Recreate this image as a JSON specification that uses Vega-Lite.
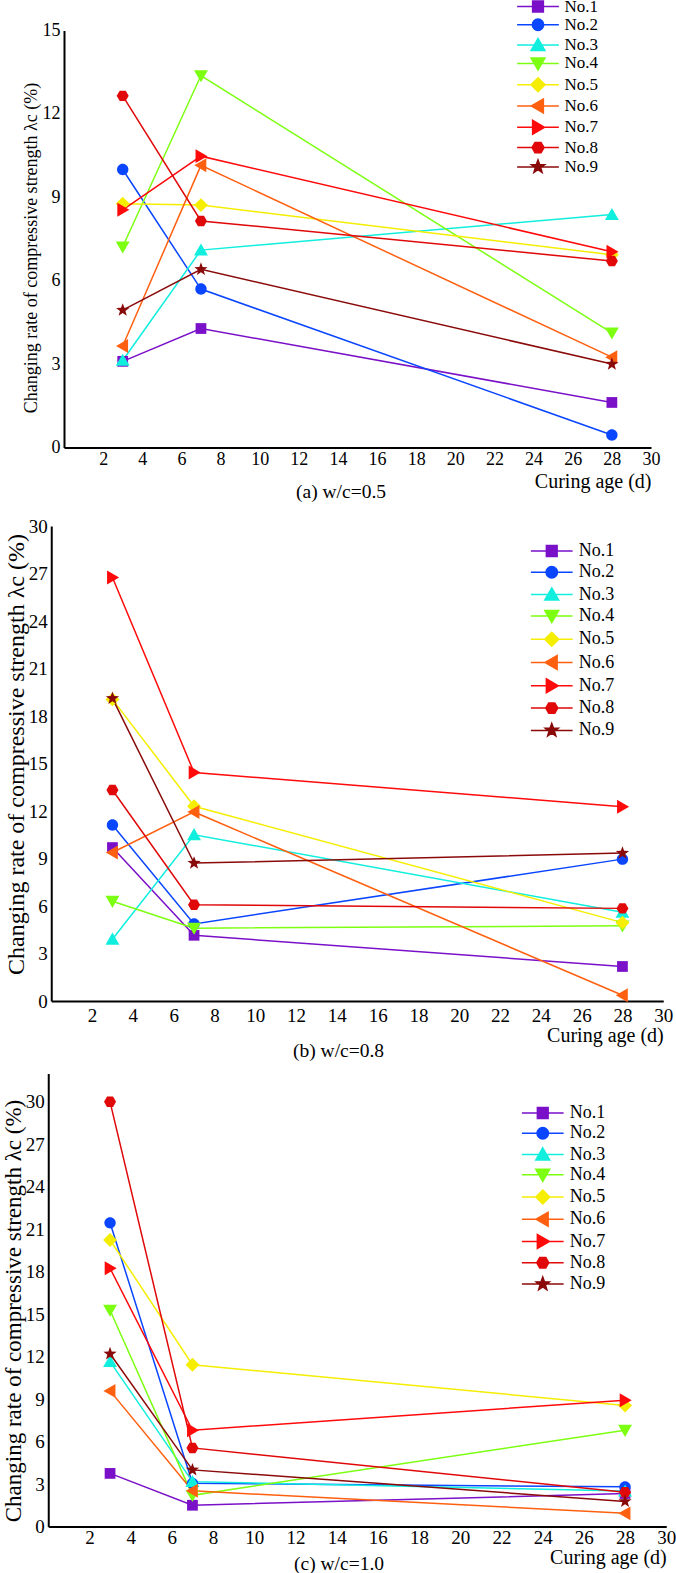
{
  "$schema": "https://vega.github.io/schema/vega-lite/v6.json",
  "padding": {"left": 2, "top": -2.5, "right": 0, "bottom": 0},
  "background": "white",
  "data": {"values": [
    {"p":"a","s":"No.1","t":3,"v":3.1},{"p":"a","s":"No.1","t":7,"v":4.28},{"p":"a","s":"No.1","t":28,"v":1.62},
    {"p":"a","s":"No.2","t":3,"v":10.0},{"p":"a","s":"No.2","t":7,"v":5.7},{"p":"a","s":"No.2","t":28,"v":0.45},
    {"p":"a","s":"No.3","t":3,"v":3.13},{"p":"a","s":"No.3","t":7,"v":7.1},{"p":"a","s":"No.3","t":28,"v":8.38},
    {"p":"a","s":"No.4","t":3,"v":7.22},{"p":"a","s":"No.4","t":7,"v":13.38},{"p":"a","s":"No.4","t":28,"v":4.12},
    {"p":"a","s":"No.5","t":3,"v":8.77},{"p":"a","s":"No.5","t":7,"v":8.72},{"p":"a","s":"No.5","t":28,"v":6.93},
    {"p":"a","s":"No.6","t":3,"v":3.65},{"p":"a","s":"No.6","t":7,"v":10.15},{"p":"a","s":"No.6","t":28,"v":3.25},
    {"p":"a","s":"No.7","t":3,"v":8.55},{"p":"a","s":"No.7","t":7,"v":10.48},{"p":"a","s":"No.7","t":28,"v":7.04},
    {"p":"a","s":"No.8","t":3,"v":12.65},{"p":"a","s":"No.8","t":7,"v":8.15},{"p":"a","s":"No.8","t":28,"v":6.71},
    {"p":"a","s":"No.9","t":3,"v":4.94},{"p":"a","s":"No.9","t":7,"v":6.41},{"p":"a","s":"No.9","t":28,"v":3.0},
    {"p":"b","s":"No.1","t":3,"v":9.69},{"p":"b","s":"No.1","t":7,"v":4.15},{"p":"b","s":"No.1","t":28,"v":2.18},
    {"p":"b","s":"No.2","t":3,"v":11.12},{"p":"b","s":"No.2","t":7,"v":4.87},{"p":"b","s":"No.2","t":28,"v":8.96},
    {"p":"b","s":"No.3","t":3,"v":3.9},{"p":"b","s":"No.3","t":7,"v":10.5},{"p":"b","s":"No.3","t":28,"v":5.6},
    {"p":"b","s":"No.4","t":3,"v":6.3},{"p":"b","s":"No.4","t":7,"v":4.6},{"p":"b","s":"No.4","t":28,"v":4.75},
    {"p":"b","s":"No.5","t":3,"v":19.05},{"p":"b","s":"No.5","t":7,"v":12.3},{"p":"b","s":"No.5","t":28,"v":4.95},
    {"p":"b","s":"No.6","t":3,"v":9.38},{"p":"b","s":"No.6","t":7,"v":11.94},{"p":"b","s":"No.6","t":28,"v":0.36},
    {"p":"b","s":"No.7","t":3,"v":26.75},{"p":"b","s":"No.7","t":7,"v":14.43},{"p":"b","s":"No.7","t":28,"v":12.27},
    {"p":"b","s":"No.8","t":3,"v":13.33},{"p":"b","s":"No.8","t":7,"v":6.08},{"p":"b","s":"No.8","t":28,"v":5.85},
    {"p":"b","s":"No.9","t":3,"v":19.11},{"p":"b","s":"No.9","t":7,"v":8.71},{"p":"b","s":"No.9","t":28,"v":9.34},
    {"p":"c","s":"No.1","t":3,"v":3.75},{"p":"c","s":"No.1","t":7,"v":1.5},{"p":"c","s":"No.1","t":28,"v":2.33},
    {"p":"c","s":"No.2","t":3,"v":21.45},{"p":"c","s":"No.2","t":7,"v":3.05},{"p":"c","s":"No.2","t":28,"v":2.8},
    {"p":"c","s":"No.3","t":3,"v":11.65},{"p":"c","s":"No.3","t":7,"v":3.17},{"p":"c","s":"No.3","t":28,"v":2.5},
    {"p":"c","s":"No.4","t":3,"v":15.28},{"p":"c","s":"No.4","t":7,"v":2.2},{"p":"c","s":"No.4","t":28,"v":6.8},
    {"p":"c","s":"No.5","t":3,"v":20.24},{"p":"c","s":"No.5","t":7,"v":11.43},{"p":"c","s":"No.5","t":28,"v":8.55},
    {"p":"c","s":"No.6","t":3,"v":9.58},{"p":"c","s":"No.6","t":7,"v":2.52},{"p":"c","s":"No.6","t":28,"v":0.93},
    {"p":"c","s":"No.7","t":3,"v":18.24},{"p":"c","s":"No.7","t":7,"v":6.8},{"p":"c","s":"No.7","t":28,"v":8.92},
    {"p":"c","s":"No.8","t":3,"v":30.0},{"p":"c","s":"No.8","t":7,"v":5.55},{"p":"c","s":"No.8","t":28,"v":2.42},
    {"p":"c","s":"No.9","t":3,"v":12.2},{"p":"c","s":"No.9","t":7,"v":4.0},{"p":"c","s":"No.9","t":28,"v":1.77}
  ]},
  "columns": 1,
  "align": {"row": "none", "column": "all"},
  "center": true,
  "spacing": 10.5,
  "resolve": {"legend": {"color": "independent"}},
  "concat": [
    {
      "width": 587, "height": 417,
      "title": {"text": "(a) w/c=0.5", "offset": -8, "subtitle": " ", "subtitleFontSize": 4, "subtitlePadding": -0.5},
      "transform": [{"filter": "datum.p == 'a'"}],
      "encoding": {
        "x": {"field": "t", "type": "quantitative", "scale": {"domain": [0, 30], "nice": false, "zero": false},
          "axis": {"title": "Curing age (d)", "titleFontSize": 20, "labelFontSize": 18, "labelPadding": 2.5, "titlePadding": 3,
            "values": [0,1,2,3,4,5,6,7,8,9,10,11,12,13,14,15,16,17,18,19,20,21,22,23,24,25,26,27,28,29,30],
            "labelExpr": "datum.value % 2 == 0 && datum.value > 0 ? datum.label : ''",
            "encode": {"ticks": {"update": {"y2": {"signal": "datum.value % 2 == 0 ? -6 : -3"}}}}}},
        "y": {"field": "v", "type": "quantitative", "scale": {"domain": [0, 15], "nice": false},
          "axis": {"title": "Changing rate of compressive strength λc (%)", "titleFontSize": 18, "labelFontSize": 18, "titlePadding": 2, "titleY": 217,
            "values": [0,1.5,3,4.5,6,7.5,9,10.5,12,13.5,15],
            "labelExpr": "datum.value % 3 == 0 ? datum.label : ''",
            "encode": {"ticks": {"update": {"x2": {"signal": "datum.value % 3 == 0 ? 6 : 3.5"}}}}}},
        "color": {"field": "s", "type": "nominal",
          "scale": {"domain": ["No.1","No.2","No.3","No.4","No.5","No.6","No.7","No.8","No.9"],
            "range": ["#7a10c8","#0a46ff","#10eede","#7cff10","#f5ee00","#ff6010","#ff0a0a","#e00808","#8a0a0a"]},
          "legend": {"title": null, "orient": "none", "legendX": 465.5, "legendY": -32.5, "rowPadding": 0.3, "labelFontSize": 17,
            "encode": {"symbols": {"update": {
              "shape": {"signal": "{'No.1':'M-3.3,0H3.3M-0.85,-0.85H0.85V0.85H-0.85Z','No.2':'M-3.3,0H3.3M0.9,0A0.9,0.9 0 1 1 -0.9,0A0.9,0.9 0 1 1 0.9,0Z','No.3':'M-3.3,0H3.3M0,-1.05L1.1,0.85L-1.1,0.85Z','No.4':'M-3.3,0H3.3M0,1.05L1.1,-0.85L-1.1,-0.85Z','No.5':'M-3.3,0H3.3M0,-1.1L1.1,0L0,1.1L-1.1,0Z','No.6':'M-3.3,0H3.3M-1.05,0L0.85,-1.1L0.85,1.1Z','No.7':'M-3.3,0H3.3M1.05,0L-0.85,-1.1L-0.85,1.1Z','No.8':'M-3.3,0H3.3M0.95,0L0.475,0.823L-0.475,0.823L-0.95,0L-0.475,-0.823L0.475,-0.823Z','No.9':'M-3.3,0H3.3M0,-1.1L0.265,-0.364L1.046,-0.34L0.428,0.139L0.647,0.89L0,0.45L-0.647,0.89L-0.428,0.139L-1.046,-0.34L-0.265,-0.364Z'}[datum.value]"},
              "fill": {"signal": "{'No.1':'#7a10c8','No.2':'#0a46ff','No.3':'#10eede','No.4':'#7cff10','No.5':'#f5ee00','No.6':'#ff6010','No.7':'#ff0a0a','No.8':'#e00808','No.9':'#8a0a0a'}[datum.value]"},
              "stroke": {"signal": "{'No.1':'#7a10c8','No.2':'#0a46ff','No.3':'#10eede','No.4':'#7cff10','No.5':'#f5ee00','No.6':'#ff6010','No.7':'#ff0a0a','No.8':'#e00808','No.9':'#8a0a0a'}[datum.value]"},
              "strokeWidth": {"value": 1.5}, "opacity": {"value": 1}}}}}}
      },
      "layer": [
        {"mark": {"type": "line", "strokeWidth": 1.5}},
        {"mark": {"type": "point", "filled": true, "opacity": 1, "size": 160},
          "encoding": {"shape": {"field": "s", "type": "nominal", "legend": null,
            "scale": {"domain": ["No.1","No.2","No.3","No.4","No.5","No.6","No.7","No.8","No.9"],
              "range": ["M-0.85,-0.85H0.85V0.85H-0.85Z","M0.9,0A0.9,0.9 0 1 1 -0.9,0A0.9,0.9 0 1 1 0.9,0Z","M0,-1.05L1.1,0.85L-1.1,0.85Z","M0,1.05L1.1,-0.85L-1.1,-0.85Z","M0,-1.1L1.1,0L0,1.1L-1.1,0Z","M-1.05,0L0.85,-1.1L0.85,1.1Z","M1.05,0L-0.85,-1.1L-0.85,1.1Z","M0.95,0L0.475,0.823L-0.475,0.823L-0.95,0L-0.475,-0.823L0.475,-0.823Z","M0,-1.1L0.265,-0.364L1.046,-0.34L0.428,0.139L0.647,0.89L0,0.45L-0.647,0.89L-0.428,0.139L-1.046,-0.34L-0.265,-0.364Z"]}}}}
      ]
    },
    {
      "width": 612, "height": 475,
      "title": {"text": "(b) w/c=0.8", "offset": -3},
      "transform": [{"filter": "datum.p == 'b'"}],
      "encoding": {
        "x": {"field": "t", "type": "quantitative", "scale": {"domain": [0, 30], "nice": false, "zero": false},
          "axis": {"title": "Curing age (d)", "titleFontSize": 20, "labelFontSize": 19, "labelPadding": 5.3, "titlePadding": 0,
            "values": [0,1,2,3,4,5,6,7,8,9,10,11,12,13,14,15,16,17,18,19,20,21,22,23,24,25,26,27,28,29,30],
            "labelExpr": "datum.value % 2 == 0 && datum.value > 0 ? datum.label : ''",
            "encode": {"ticks": {"update": {"y2": {"signal": "datum.value % 2 == 0 ? -6 : -3"}}}}}},
        "y": {"field": "v", "type": "quantitative", "scale": {"domain": [0, 30], "nice": false},
          "axis": {"title": "Changing rate of compressive strength λc (%)", "titleFontSize": 24, "labelFontSize": 19, "titlePadding": 0, "titleY": 228,
            "values": [0,1.5,3,4.5,6,7.5,9,10.5,12,13.5,15,16.5,18,19.5,21,22.5,24,25.5,27,28.5,30],
            "labelExpr": "datum.value % 3 == 0 ? datum.label : ''",
            "encode": {"ticks": {"update": {"x2": {"signal": "datum.value % 3 == 0 ? 6 : 3.5"}}}}}},
        "color": {"field": "s", "type": "nominal",
          "scale": {"domain": ["No.1","No.2","No.3","No.4","No.5","No.6","No.7","No.8","No.9"],
            "range": ["#7a10c8","#0a46ff","#10eede","#7cff10","#f5ee00","#ff6010","#ff0a0a","#e00808","#8a0a0a"]},
          "legend": {"title": null, "orient": "none", "legendX": 491.5, "legendY": 16, "rowPadding": 3.3, "labelFontSize": 18,
            "encode": {"symbols": {"update": {
              "shape": {"signal": "{'No.1':'M-3.3,0H3.3M-0.85,-0.85H0.85V0.85H-0.85Z','No.2':'M-3.3,0H3.3M0.9,0A0.9,0.9 0 1 1 -0.9,0A0.9,0.9 0 1 1 0.9,0Z','No.3':'M-3.3,0H3.3M0,-1.05L1.1,0.85L-1.1,0.85Z','No.4':'M-3.3,0H3.3M0,1.05L1.1,-0.85L-1.1,-0.85Z','No.5':'M-3.3,0H3.3M0,-1.1L1.1,0L0,1.1L-1.1,0Z','No.6':'M-3.3,0H3.3M-1.05,0L0.85,-1.1L0.85,1.1Z','No.7':'M-3.3,0H3.3M1.05,0L-0.85,-1.1L-0.85,1.1Z','No.8':'M-3.3,0H3.3M0.95,0L0.475,0.823L-0.475,0.823L-0.95,0L-0.475,-0.823L0.475,-0.823Z','No.9':'M-3.3,0H3.3M0,-1.1L0.265,-0.364L1.046,-0.34L0.428,0.139L0.647,0.89L0,0.45L-0.647,0.89L-0.428,0.139L-1.046,-0.34L-0.265,-0.364Z'}[datum.value]"},
              "fill": {"signal": "{'No.1':'#7a10c8','No.2':'#0a46ff','No.3':'#10eede','No.4':'#7cff10','No.5':'#f5ee00','No.6':'#ff6010','No.7':'#ff0a0a','No.8':'#e00808','No.9':'#8a0a0a'}[datum.value]"},
              "stroke": {"signal": "{'No.1':'#7a10c8','No.2':'#0a46ff','No.3':'#10eede','No.4':'#7cff10','No.5':'#f5ee00','No.6':'#ff6010','No.7':'#ff0a0a','No.8':'#e00808','No.9':'#8a0a0a'}[datum.value]"},
              "strokeWidth": {"value": 1.5}, "opacity": {"value": 1}}}}}}
      },
      "layer": [
        {"mark": {"type": "line", "strokeWidth": 1.5}},
        {"mark": {"type": "point", "filled": true, "opacity": 1, "size": 160},
          "encoding": {"shape": {"field": "s", "type": "nominal", "legend": null,
            "scale": {"domain": ["No.1","No.2","No.3","No.4","No.5","No.6","No.7","No.8","No.9"],
              "range": ["M-0.85,-0.85H0.85V0.85H-0.85Z","M0.9,0A0.9,0.9 0 1 1 -0.9,0A0.9,0.9 0 1 1 0.9,0Z","M0,-1.05L1.1,0.85L-1.1,0.85Z","M0,1.05L1.1,-0.85L-1.1,-0.85Z","M0,-1.1L1.1,0L0,1.1L-1.1,0Z","M-1.05,0L0.85,-1.1L0.85,1.1Z","M1.05,0L-0.85,-1.1L-0.85,1.1Z","M0.95,0L0.475,0.823L-0.475,0.823L-0.95,0L-0.475,-0.823L0.475,-0.823Z","M0,-1.1L0.265,-0.364L1.046,-0.34L0.428,0.139L0.647,0.89L0,0.45L-0.647,0.89L-0.428,0.139L-1.046,-0.34L-0.265,-0.364Z"]}}}}
      ]
    },
    {
      "width": 618, "height": 453,
      "title": {"text": "(c) w/c=1.0", "offset": -13},
      "transform": [{"filter": "datum.p == 'c'"}],
      "encoding": {
        "x": {"field": "t", "type": "quantitative", "scale": {"domain": [0, 30], "nice": false, "zero": false},
          "axis": {"title": "Curing age (d)", "titleFontSize": 20, "labelFontSize": 19, "labelPadding": 2, "titlePadding": 0,
            "values": [0,1,2,3,4,5,6,7,8,9,10,11,12,13,14,15,16,17,18,19,20,21,22,23,24,25,26,27,28,29,30],
            "labelExpr": "datum.value % 2 == 0 && datum.value > 0 ? datum.label : ''",
            "encode": {"ticks": {"update": {"y2": {"signal": "datum.value % 2 == 0 ? -6 : -3"}}}}}},
        "y": {"field": "v", "type": "quantitative", "scale": {"domain": [0, 32], "nice": false},
          "axis": {"title": "Changing rate of compressive strength λc (%)", "titleFontSize": 23, "labelFontSize": 19, "titlePadding": 0, "titleY": 237,
            "values": [0,1.5,3,4.5,6,7.5,9,10.5,12,13.5,15,16.5,18,19.5,21,22.5,24,25.5,27,28.5,30,31.5],
            "labelExpr": "datum.value % 3 == 0 ? datum.label : ''",
            "encode": {"ticks": {"update": {"x2": {"signal": "datum.value % 3 == 0 ? 6 : 3.5"}}}}}},
        "color": {"field": "s", "type": "nominal",
          "scale": {"domain": ["No.1","No.2","No.3","No.4","No.5","No.6","No.7","No.8","No.9"],
            "range": ["#7a10c8","#0a46ff","#10eede","#7cff10","#f5ee00","#ff6010","#ff0a0a","#e00808","#8a0a0a"]},
          "legend": {"title": null, "orient": "none", "legendX": 485.5, "legendY": 30.5, "rowPadding": 2.25, "labelFontSize": 18,
            "encode": {"symbols": {"update": {
              "shape": {"signal": "{'No.1':'M-3.3,0H3.3M-0.85,-0.85H0.85V0.85H-0.85Z','No.2':'M-3.3,0H3.3M0.9,0A0.9,0.9 0 1 1 -0.9,0A0.9,0.9 0 1 1 0.9,0Z','No.3':'M-3.3,0H3.3M0,-1.05L1.1,0.85L-1.1,0.85Z','No.4':'M-3.3,0H3.3M0,1.05L1.1,-0.85L-1.1,-0.85Z','No.5':'M-3.3,0H3.3M0,-1.1L1.1,0L0,1.1L-1.1,0Z','No.6':'M-3.3,0H3.3M-1.05,0L0.85,-1.1L0.85,1.1Z','No.7':'M-3.3,0H3.3M1.05,0L-0.85,-1.1L-0.85,1.1Z','No.8':'M-3.3,0H3.3M0.95,0L0.475,0.823L-0.475,0.823L-0.95,0L-0.475,-0.823L0.475,-0.823Z','No.9':'M-3.3,0H3.3M0,-1.1L0.265,-0.364L1.046,-0.34L0.428,0.139L0.647,0.89L0,0.45L-0.647,0.89L-0.428,0.139L-1.046,-0.34L-0.265,-0.364Z'}[datum.value]"},
              "fill": {"signal": "{'No.1':'#7a10c8','No.2':'#0a46ff','No.3':'#10eede','No.4':'#7cff10','No.5':'#f5ee00','No.6':'#ff6010','No.7':'#ff0a0a','No.8':'#e00808','No.9':'#8a0a0a'}[datum.value]"},
              "stroke": {"signal": "{'No.1':'#7a10c8','No.2':'#0a46ff','No.3':'#10eede','No.4':'#7cff10','No.5':'#f5ee00','No.6':'#ff6010','No.7':'#ff0a0a','No.8':'#e00808','No.9':'#8a0a0a'}[datum.value]"},
              "strokeWidth": {"value": 1.5}, "opacity": {"value": 1}}}}}}
      },
      "layer": [
        {"mark": {"type": "line", "strokeWidth": 1.5}},
        {"mark": {"type": "point", "filled": true, "opacity": 1, "size": 160},
          "encoding": {"shape": {"field": "s", "type": "nominal", "legend": null,
            "scale": {"domain": ["No.1","No.2","No.3","No.4","No.5","No.6","No.7","No.8","No.9"],
              "range": ["M-0.85,-0.85H0.85V0.85H-0.85Z","M0.9,0A0.9,0.9 0 1 1 -0.9,0A0.9,0.9 0 1 1 0.9,0Z","M0,-1.05L1.1,0.85L-1.1,0.85Z","M0,1.05L1.1,-0.85L-1.1,-0.85Z","M0,-1.1L1.1,0L0,1.1L-1.1,0Z","M-1.05,0L0.85,-1.1L0.85,1.1Z","M1.05,0L-0.85,-1.1L-0.85,1.1Z","M0.95,0L0.475,0.823L-0.475,0.823L-0.95,0L-0.475,-0.823L0.475,-0.823Z","M0,-1.1L0.265,-0.364L1.046,-0.34L0.428,0.139L0.647,0.89L0,0.45L-0.647,0.89L-0.428,0.139L-1.046,-0.34L-0.265,-0.364Z"]}}}}
      ]
    }
  ],
  "config": {
    "font": "Liberation Serif",
    "view": {"stroke": null},
    "axis": {
      "labelFont": "Liberation Serif", "titleFont": "Liberation Serif",
      "labelColor": "black", "titleColor": "black", "titleFontWeight": "normal",
      "domainColor": "black", "domainWidth": 2, "tickColor": "black", "tickWidth": 1.5,
      "tickSize": 0, "grid": false, "labelOverlap": false, "labelFlush": false, "labelBound": false,
      "labelPadding": 4
    },
    "axisX": {"titleAnchor": "end"},
    "legend": {
      "labelFont": "Liberation Serif", "labelFontSize": 17, "labelColor": "black",
      "symbolSize": 160, "symbolStrokeWidth": 1.5, "labelOffset": 18, "padding": 0
    },
    "title": {"font": "Liberation Serif", "fontSize": 19.5, "fontWeight": "normal", "color": "black",
      "orient": "bottom", "anchor": "middle", "frame": "bounds"}
  }
}
